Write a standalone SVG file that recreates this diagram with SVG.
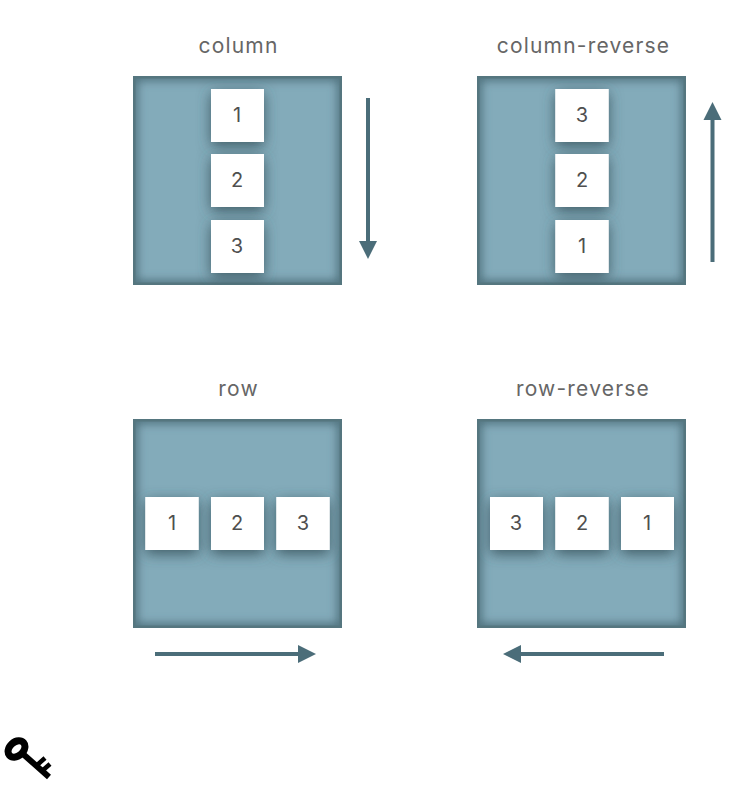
<svg xmlns="http://www.w3.org/2000/svg" width="756" height="787" viewBox="0 0 756 787">
<defs>
<filter id="blur" x="-20%" y="-20%" width="140%" height="140%"><feGaussianBlur stdDeviation="5"/></filter>
<filter id="shadow" x="-60%" y="-60%" width="220%" height="220%"><feDropShadow dx="0" dy="4" stdDeviation="7" flood-color="#37525d" flood-opacity="0.9"/></filter>
<clipPath id="cp1"><rect x="133" y="76" width="209" height="209"/></clipPath>
<clipPath id="cp2"><rect x="477" y="76" width="209" height="209"/></clipPath>
<clipPath id="cp3"><rect x="133" y="419" width="209" height="209"/></clipPath>
<clipPath id="cp4"><rect x="477" y="419" width="209" height="209"/></clipPath>
<style>
.panel{fill:#83abba}
.edge{fill:none;stroke:#55767f;stroke-width:2.500}
.glow{fill:none;stroke:#4b6d79;stroke-width:9;filter:url(#blur)}
.box{fill:#fff;filter:url(#shadow)}
.t{font-family:Inter,"Liberation Sans",sans-serif;text-anchor:middle}
.title{font-size:21px;letter-spacing:1.200px;fill:#666}
.num{font-size:20px;fill:#4f4f4f}
.shaft{stroke:#4b6d79;stroke-width:4;fill:none}
.head{fill:#4b6d79}
</style>
</defs>
<rect width="756" height="787" fill="#fff"/>
<g id="column">
<text class="t title" x="238.500" y="53">column</text>
<rect class="panel" x="133" y="76" width="209" height="209"/>
<g clip-path="url(#cp1)"><rect class="glow" x="133" y="76" width="209" height="209"/></g>
<rect class="edge" x="134.250" y="77.250" width="206.500" height="206.500"/>
<g clip-path="url(#cp1)">
<rect class="box" x="211" y="89" width="53" height="53"/><rect class="box" x="211" y="154" width="53" height="53"/><rect class="box" x="211" y="220" width="53" height="53"/>
<rect fill="#fff" x="211" y="89" width="53" height="53"/><rect fill="#fff" x="211" y="154" width="53" height="53"/><rect fill="#fff" x="211" y="220" width="53" height="53"/>
</g>
<text class="t num" x="237" y="122">1</text><text class="t num" x="237" y="187">2</text><text class="t num" x="237" y="253">3</text>
</g>
<g id="column-reverse">
<text class="t title" x="583.500" y="53">column-reverse</text>
<rect class="panel" x="477" y="76" width="209" height="209"/>
<g clip-path="url(#cp2)"><rect class="glow" x="477" y="76" width="209" height="209"/></g>
<rect class="edge" x="478.250" y="77.250" width="206.500" height="206.500"/>
<g clip-path="url(#cp2)">
<rect class="box" x="555.500" y="89" width="53" height="53"/><rect class="box" x="555.500" y="154" width="53" height="53"/><rect class="box" x="555.500" y="220" width="53" height="53"/>
<rect fill="#fff" x="555.500" y="89" width="53" height="53"/><rect fill="#fff" x="555.500" y="154" width="53" height="53"/><rect fill="#fff" x="555.500" y="220" width="53" height="53"/>
</g>
<text class="t num" x="582" y="122">3</text><text class="t num" x="582" y="187">2</text><text class="t num" x="582" y="253">1</text>
</g>
<g id="row">
<text class="t title" x="238.500" y="396">row</text>
<rect class="panel" x="133" y="419" width="209" height="209"/>
<g clip-path="url(#cp3)"><rect class="glow" x="133" y="419" width="209" height="209"/></g>
<rect class="edge" x="134.250" y="420.250" width="206.500" height="206.500"/>
<g clip-path="url(#cp3)">
<rect class="box" x="145.500" y="497" width="53" height="53"/><rect class="box" x="211" y="497" width="53" height="53"/><rect class="box" x="276.500" y="497" width="53" height="53"/>
<rect fill="#fff" x="145.500" y="497" width="53" height="53"/><rect fill="#fff" x="211" y="497" width="53" height="53"/><rect fill="#fff" x="276.500" y="497" width="53" height="53"/>
</g>
<text class="t num" x="172" y="530">1</text><text class="t num" x="237" y="530">2</text><text class="t num" x="303" y="530">3</text>
</g>
<g id="row-reverse">
<text class="t title" x="583" y="396">row-reverse</text>
<rect class="panel" x="477" y="419" width="209" height="209"/>
<g clip-path="url(#cp4)"><rect class="glow" x="477" y="419" width="209" height="209"/></g>
<rect class="edge" x="478.250" y="420.250" width="206.500" height="206.500"/>
<g clip-path="url(#cp4)">
<rect class="box" x="490" y="497" width="53" height="53"/><rect class="box" x="555.500" y="497" width="53" height="53"/><rect class="box" x="621" y="497" width="53" height="53"/>
<rect fill="#fff" x="490" y="497" width="53" height="53"/><rect fill="#fff" x="555.500" y="497" width="53" height="53"/><rect fill="#fff" x="621" y="497" width="53" height="53"/>
</g>
<text class="t num" x="516" y="530">3</text><text class="t num" x="582" y="530">2</text><text class="t num" x="647" y="530">1</text>
</g>
<g id="connectors">
<line class="shaft" x1="368" y1="98" x2="368" y2="242"/><polygon class="head" points="359,241 377,241 368,259"/>
<line class="shaft" x1="712.500" y1="262" x2="712.500" y2="119"/><polygon class="head" points="703.500,120 721.500,120 712.500,102"/>
<line class="shaft" x1="155" y1="654" x2="299" y2="654"/><polygon class="head" points="298,645 298,663 316,654"/>
<line class="shaft" x1="664" y1="654" x2="520" y2="654"/><polygon class="head" points="521,645 521,663 503,654"/>
</g>
<g id="key">
<ellipse cx="16.500" cy="749" rx="13" ry="10.500" fill="#000" transform="rotate(-42 16.500 749)"/>
<ellipse cx="16.500" cy="749" rx="6" ry="3.300" fill="#fff" transform="rotate(-42 16.500 749)"/>
<path d="M23 754L49 777" fill="none" stroke="#000" stroke-width="6"/>
<path d="M36 766L45 758M42 771L50 764" fill="none" stroke="#000" stroke-width="4.500"/>
</g>
</svg>
